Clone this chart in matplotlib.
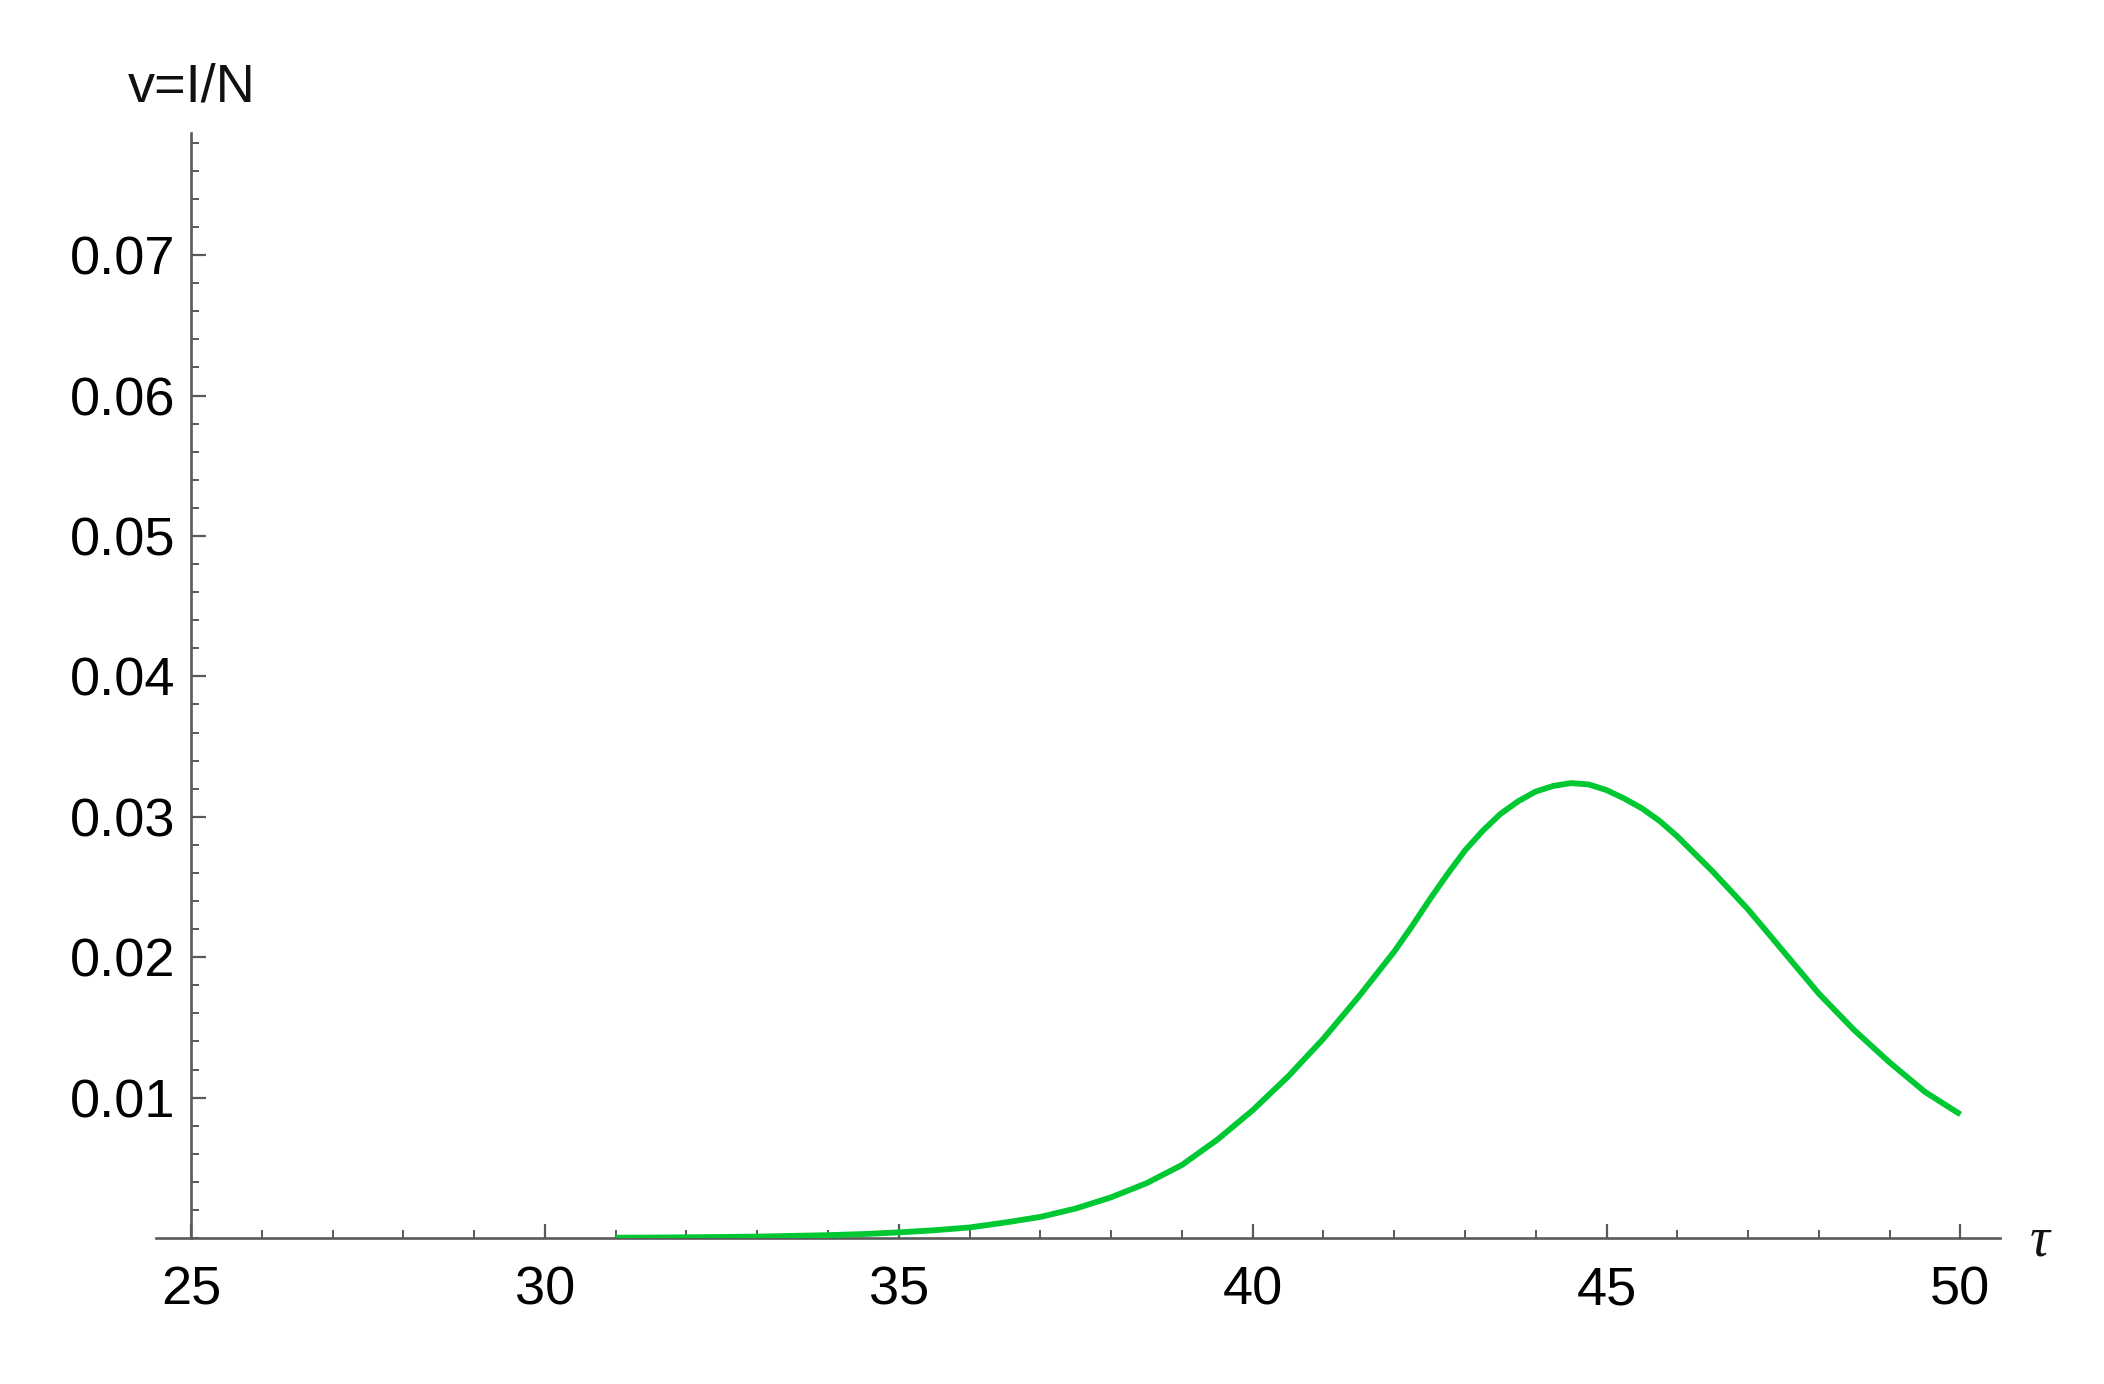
import matplotlib
matplotlib.use("Agg")
import matplotlib.pyplot as plt
from matplotlib.ticker import MultipleLocator, FixedLocator, FuncFormatter

plt.rcParams['font.family'] = ['Liberation Sans', 'DejaVu Sans']

# ---- data ---- #
tau = [31, 31.5, 32, 32.5, 33, 33.5, 34, 34.5, 35, 35.5, 36, 36.5, 37, 37.5,
       38, 38.5, 39, 39.5, 40, 40.5, 41, 41.5, 41.75, 42, 42.25, 42.5, 42.75,
       43, 43.25, 43.5, 43.75, 44, 44.25, 44.5, 44.75, 45, 45.25, 45.5, 45.75,
       46, 46.5, 47, 47.5, 48, 48.5, 49, 49.5, 50]
v = [0.00002, 0.00003, 0.00005, 0.00007, 0.0001, 0.00015, 0.0002, 0.00028,
     0.0004, 0.00055, 0.00075, 0.0011, 0.0015, 0.0021, 0.0029, 0.0039,
     0.0052, 0.0070, 0.0091, 0.0115, 0.0142, 0.0172, 0.0188, 0.0204, 0.0222,
     0.0241, 0.0259, 0.0276, 0.0290, 0.0302, 0.0311, 0.0318, 0.0322, 0.0324,
     0.0323, 0.0319, 0.0313, 0.0306, 0.0297, 0.0286, 0.0261, 0.0234, 0.0204,
     0.0174, 0.0148, 0.0125, 0.0104, 0.0088]

x_major = [25, 30, 35, 40, 45, 50]
y_major = [0.01, 0.02, 0.03, 0.04, 0.05, 0.06, 0.07]

axis_col = '#5a5a5a'

fig = plt.figure(figsize=(21.04, 13.84), dpi=100)
ax = fig.add_axes([0.0740, 0.1055, 0.8766, 0.7984])

ax.plot(tau, v, color='#00c832', lw=4.2, solid_capstyle='butt',
        solid_joinstyle='round', zorder=3)

ax.set_xlim(24.5, 50.56)
ax.set_ylim(0, 0.0787)

# ---- Mathematica風の軸 ---- #
ax.spines['left'].set_position(('data', 25))
ax.spines['bottom'].set_position(('data', 0))
ax.spines['top'].set_visible(False)
ax.spines['right'].set_visible(False)
for s in ('left', 'bottom'):
    ax.spines[s].set_color(axis_col)
    ax.spines[s].set_linewidth(1.9)

ax.xaxis.set_major_locator(FixedLocator(x_major))
ax.xaxis.set_minor_locator(MultipleLocator(1))
ax.yaxis.set_major_locator(FixedLocator(y_major))
ax.yaxis.set_minor_locator(MultipleLocator(0.002))
ax.yaxis.set_major_formatter(FuncFormatter(lambda val, pos: f"{val:.2f}"))

ax.tick_params(axis='x', which='major', direction='in', length=10, width=1.6,
               color=axis_col, labelsize=39, pad=20)
ax.tick_params(axis='x', which='minor', direction='in', length=6, width=1.4,
               color=axis_col)
ax.tick_params(axis='y', which='major', direction='in', length=11, width=1.6,
               color=axis_col, labelsize=39, pad=11)
ax.tick_params(axis='y', which='minor', direction='in', length=6, width=1.4,
               color=axis_col)

# ---- 軸ラベル ---- #
fig.text(128 / 2104, 1 - 102 / 1384, "v=I/N", fontsize=39, ha='left',
         va='baseline', color='#111111')
fig.text(2030 / 2104, 1 - 1242 / 1384, "τ", fontsize=40, ha='left',
         va='center', style='italic', family=['Liberation Serif', 'DejaVu Serif'],
         color='#111111')

fig.savefig('out.png', dpi=100)
